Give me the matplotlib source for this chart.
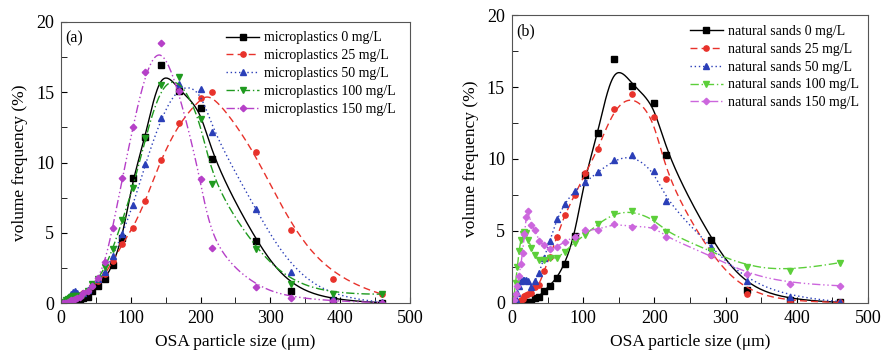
import numpy as np
import matplotlib
matplotlib.use('Agg')
import matplotlib.pyplot as plt
from matplotlib.ticker import MultipleLocator

plt.rcParams['font.family'] = ['Liberation Serif', 'DejaVu Serif']
plt.rcParams['mathtext.fontset'] = 'stix'

# particle size bins (um)
size_um = [3, 5, 7.5, 10, 12.5, 15, 17.5, 20, 23, 27, 32, 38, 45, 53, 63, 74, 88,
           103, 121, 143, 169, 200, 217, 279, 330, 390, 460]

# (a) microplastics
mp_0 = [0, 0, 0, 0, 0, 0, 0, 0, 0.05, 0.1, 0.35, 0.45, 0.85, 1.2, 1.75, 2.7, 4.65,
        8.9, 11.8, 16.95, 15.1, 13.9, 10.25, 4.4, 0.9, 0.2, 0.05]
mp_25 = [0, 0.05, 0.1, 0.2, 0.3, 0.4, 0.45, 0.5, 0.55, 0.6, 0.75, 0.85, 1.2, 1.55, 2.05,
         3.0, 4.2, 5.35, 7.25, 10.2, 12.8, 14.55, 15.0, 10.75, 5.2, 1.7, 0.65]
mp_50 = [0.05, 0.1, 0.2, 0.35, 0.5, 0.65, 0.8, 0.85, 0.75, 0.6, 0.7, 0.95, 1.4, 1.75, 2.2,
         3.35, 4.95, 6.95, 9.9, 13.15, 15.55, 15.25, 12.2, 6.7, 2.25, 0.35, 0.1]
mp_100 = [0.05, 0.1, 0.2, 0.3, 0.4, 0.45, 0.5, 0.55, 0.5, 0.55, 0.6, 0.9, 1.35, 1.75, 2.55,
          3.85, 5.9, 8.2, 11.75, 15.5, 16.1, 13.1, 8.45, 3.85, 1.4, 0.65, 0.65]
mp_150 = [0, 0.02, 0.05, 0.1, 0.15, 0.2, 0.25, 0.3, 0.35, 0.45, 0.7, 0.9, 1.2, 1.8, 2.95,
          5.35, 8.9, 12.5, 16.45, 18.5, 15.1, 8.85, 3.9, 1.15, 0.4, 0.15, 0.05]

# (b) natural sands
ns_0 = mp_0
ns_25 = [0, 0, 0.05, 0.1, 0.2, 0.3, 0.5, 0.55, 0.6, 0.7, 1.1, 1.25, 2.2, 3.2, 4.6, 6.1, 7.5,
         9.0, 10.7, 13.5, 14.5, 12.9, 8.6, 3.3, 0.6, 0.1, 0.05]
ns_50 = [0.1, 0.3, 0.7, 1.2, 1.5, 1.6, 1.6, 1.6, 1.5, 1.1, 1.5, 2.1, 3.1, 4.3, 5.8, 6.9, 7.8,
         8.4, 9.1, 9.9, 10.3, 9.15, 7.05, 3.9, 1.5, 0.4, 0.1]
ns_100 = [0.5, 1.4, 2.5, 3.6, 4.4, 4.8, 4.9, 4.85, 4.4, 3.8, 3.3, 3.0, 3.0, 3.1, 3.1, 3.55, 4.2,
          4.75, 5.5, 6.2, 6.4, 5.8, 4.9, 3.6, 2.5, 2.2, 2.8]
ns_150 = [0.2, 0.6, 1.2, 1.9, 2.7, 3.5, 4.8, 6.0, 6.4, 5.4, 5.1, 4.3, 4.0, 3.75, 3.9, 4.25, 4.6,
          5.05, 5.1, 5.5, 5.3, 5.3, 4.55, 3.3, 2.0, 1.35, 1.2]

conc = ['0', '25', '50', '100', '150']


def bspline(xs, ys, num=600):
    # clamped cubic B-spline with the data points as control points
    P = np.column_stack([xs, ys]).astype(float)
    n = len(P)
    k = 3
    knots = np.concatenate([np.zeros(k), np.arange(n - k + 1), np.full(k, n - k)]).astype(float)
    u = np.linspace(0, n - k, num)
    u[-1] -= 1e-9
    N = np.zeros((num, len(knots) - 1))
    for i in range(len(knots) - 1):
        N[:, i] = (u >= knots[i]) & (u < knots[i + 1])
    for d in range(1, k + 1):
        Nn = np.zeros((num, len(knots) - 1 - d))
        for i in range(len(knots) - 1 - d):
            a = knots[i + d] - knots[i]
            b = knots[i + d + 1] - knots[i + 1]
            t1 = (u - knots[i]) / a * N[:, i] if a > 0 else 0
            t2 = (knots[i + d + 1] - u) / b * N[:, i + 1] if b > 0 else 0
            Nn[:, i] = t1 + t2
        N = Nn
    C = N @ P
    return C[:, 0], C[:, 1]


styles = [
    dict(ls='-', marker='s', ms=3.8),
    dict(ls=(0, (5, 3)), marker='o', ms=3.8),
    dict(ls=(0, (1, 2)), marker='^', ms=4.2),
    dict(ls=(0, (6, 2, 1, 2)), marker='v', ms=4.2),
    dict(ls=(0, (6, 2, 1, 2, 1, 2)), marker='D', ms=3.3),
]
colors_a = ['black', '#e8322b', '#2b3fb8', '#1f9a1f', '#b640c8']
colors_b = ['black', '#e8322b', '#2b3fb8', '#5ccf3a', '#cc66dd']


def draw_panel(ax, series, colors, name, tag, leg_anchor):
    for vals, c, st, lvl in zip(series, colors, styles, conc):
        sx, sy = bspline(size_um, vals)
        ax.plot(sx, sy, color=c, lw=1.0, ls=st['ls'])
        ax.plot(size_um, vals, ls='none', marker=st['marker'], ms=st['ms'],
                color=c, mec=c)
        # legend proxy
        ax.plot([], [], color=c, lw=1.0, ls=st['ls'], marker=st['marker'],
                ms=st['ms'], label=f'{name} {lvl} mg/L')
    ax.set_xlim(0, 500)
    ax.set_ylim(0, 20)
    ax.xaxis.set_major_locator(MultipleLocator(100))
    ax.xaxis.set_minor_locator(MultipleLocator(50))
    ax.yaxis.set_major_locator(MultipleLocator(5))
    ax.yaxis.set_minor_locator(MultipleLocator(2.5))
    ax.tick_params(which='both', direction='in', labelsize=13, length=4, pad=5)
    for s in ax.spines.values():
        s.set_color('#555555')
    ax.set_xlabel('OSA particle size (μm)', fontsize=12.5, labelpad=5)
    ax.set_ylabel('volume frequency (%)', fontsize=12.5, labelpad=6)
    ax.text(0.012, 0.97, tag, transform=ax.transAxes, fontsize=11.5, va='top')
    ax.legend(loc='upper right', frameon=False, fontsize=10, labelspacing=0.35,
              handlelength=2.4, handletextpad=0.35, borderaxespad=0.0,
              bbox_to_anchor=leg_anchor)


fig = plt.figure(figsize=(8.83, 3.54), dpi=100)
ax1 = fig.add_axes([0.0691, 0.1432, 0.3952, 0.7955])
ax2 = fig.add_axes([0.5798, 0.1441, 0.4032, 0.8135])

draw_panel(ax1, [mp_0, mp_25, mp_50, mp_100, mp_150], colors_a, 'microplastics', '(a)',
           (0.975, 0.985))
draw_panel(ax2, [ns_0, ns_25, ns_50, ns_100, ns_150], colors_b, 'natural sands', '(b)',
           (0.99, 0.985))

fig.savefig('out.png', dpi=100)
